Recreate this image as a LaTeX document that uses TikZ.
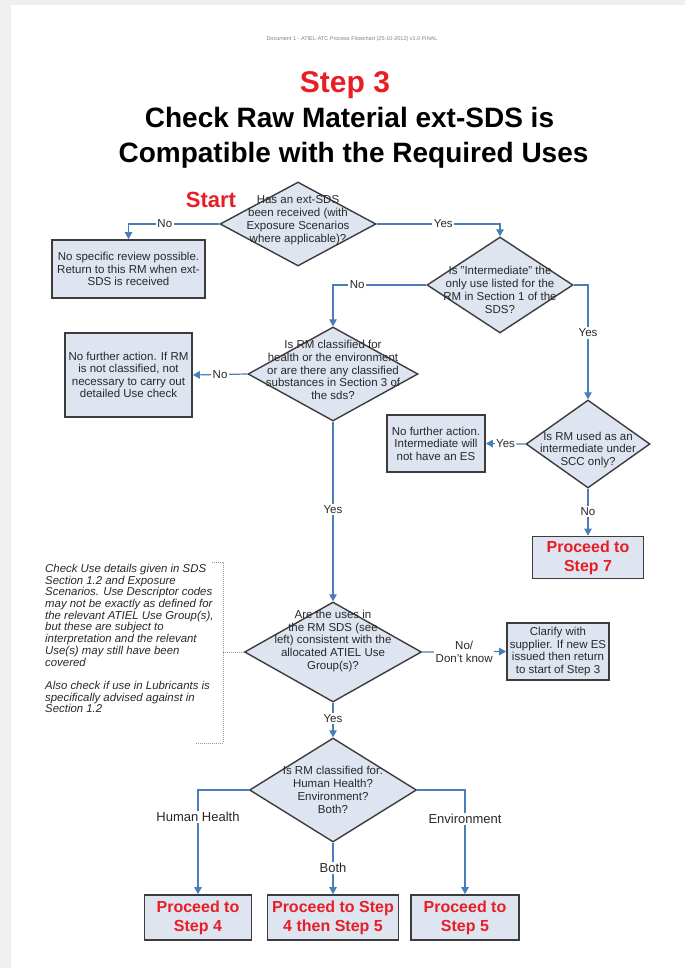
\documentclass[tikz,border=0pt]{standalone}
\usepackage{fontspec}
\setmainfont{Liberation Sans}
\usetikzlibrary{shapes.geometric,arrows.meta}

\definecolor{pagegray}{RGB}{240,240,240}
\definecolor{boxfill}{RGB}{222,229,241}
\definecolor{boxline}{RGB}{60,60,60}
\definecolor{flowblue}{RGB}{74,126,187}
\definecolor{stepred}{RGB}{232,30,36}
\definecolor{txtgray}{RGB}{40,40,40}

\newcommand{\fsz}[2]{\fontsize{#1}{#2}\selectfont}

\begin{document}
\begin{tikzpicture}[x=1pt,y=-1pt,
  proc/.style={rectangle, draw=boxline, fill=boxfill, line width=1.7pt, inner sep=0pt,
               align=center, text=txtgray, font=\fsz{11.5}{12.5}},
  goal/.style={proc, text=stepred, font=\bfseries\fsz{16}{19}},
  decision/.style={diamond, draw=boxline, fill=boxfill, line width=1.4pt, inner sep=0pt},
  dtext/.style={align=center, text=txtgray, font=\fsz{11.5}{12.8}, inner sep=0pt},
  flow/.style={draw=flowblue, line width=1.2pt, -{Triangle[length=7pt,width=7.5pt]}},
  lbl/.style={fill=white, text=txtgray, font=\fsz{11.5}{12.5}, inner sep=1.5pt},
  biglbl/.style={lbl, font=\fsz{13}{14}},
  bracket/.style={draw=gray!80, line width=0.7pt, dash pattern=on 1pt off 1pt}
]

% page and viewer background
\fill[pagegray] (0,0) rectangle (685,968);
\fill[white] (11,5) rectangle (685,968);
\useasboundingbox (0,0) rectangle (685,968);

% header and title
\node[font=\fsz{5.5}{6}, text=gray] (hdr) at (352,39)
  {Document 1 - ATIEL-ATC Process Flowchart (25-10-2012) v1.0 FINAL};
\node[anchor=base, font=\bfseries\fsz{30}{32}, text=stepred] (step) at (345,93) {Step 3};
\node[anchor=base, font=\bfseries\fsz{28}{30}] (title1) at (349.5,128) {Check Raw Material ext-SDS is};
\node[anchor=base, font=\bfseries\fsz{28}{30}] (title2) at (353.5,163) {Compatible with the Required Uses};

\node[font=\bfseries\fsz{22}{24}, text=stepred] (start) at (211,200) {Start};

% decisions
\node[decision, minimum width=156pt, minimum height=84pt] (d1) at (298,224) {};
\node[dtext] (d1t) at (298,220) {Has an ext-SDS\\been received (with\\Exposure Scenarios\\where applicable)?};

\node[decision, minimum width=146pt, minimum height=96pt] (d2) at (500,285) {};
\node[dtext] (d2t) at (500,290) {Is "Intermediate" the\\only use listed for the\\RM in Section 1 of the\\SDS?};

\node[decision, minimum width=170pt, minimum height=94pt] (d3) at (333,374) {};
\node[dtext] (d3t) at (333,370) {Is RM classified for\\health or the environment\\or are there any classified\\substances in Section 3 of\\the sds?};

\node[decision, minimum width=124pt, minimum height=88pt] (d4) at (588,444) {};
\node[dtext] (d4t) at (588,450) {Is RM used as an\\intermediate under\\SCC only?};

\node[decision, minimum width=177pt, minimum height=100pt] (d5) at (333,652) {};
\node[dtext] (d5t) at (333,641) {Are the uses in\\the RM SDS (see\\left) consistent with the\\allocated ATIEL Use\\Group(s)?};

\node[decision, minimum width=167pt, minimum height=104pt] (d6) at (333,790) {};
\node[dtext] (d6t) at (333,790) {Is RM classified for:\\Human Health?\\Environment?\\Both?};

% process boxes
\node[proc, minimum width=153pt, minimum height=58pt] (box1) at (128.5,269)
  {No specific review possible.\\Return to this RM when ext-\\SDS is received};
\node[proc, minimum width=127pt, minimum height=84pt] (box2) at (128.5,375)
  {No further action. If RM\\is not classified, not\\necessary to carry out\\detailed Use check};
\node[proc, minimum width=98pt, minimum height=57pt] (box3) at (436,443.5)
  {No further action.\\Intermediate will\\not have an ES};
\node[proc, minimum width=102pt, minimum height=57pt] (box5) at (558,651.5)
  {Clarify with\\supplier. If new ES\\issued then return\\to start of Step 3};

% outcome boxes
\node[goal, minimum width=111pt, minimum height=42pt] (box4) at (588,557.5) {Proceed to\\Step 7};
\node[goal, minimum width=107pt, minimum height=45pt] (box6) at (198,917.5) {Proceed to\\Step 4};
\node[goal, minimum width=131pt, minimum height=45pt] (box7) at (333,917.5) {Proceed to Step\\4 then Step 5};
\node[goal, minimum width=108pt, minimum height=45pt] (box8) at (465,917.5) {Proceed to\\Step 5};

% guidance note with its dotted bracket
\node[anchor=north west, align=left, inner sep=0pt, text=txtgray,
      font=\itshape\fsz{11.4}{11.7}] (note) at (45,564)
  {Check Use details given in SDS\\Section 1.2 and Exposure\\Scenarios. Use Descriptor codes\\
   may not be exactly as defined for\\the relevant ATIEL Use Group(s),\\but these are subject to\\
   interpretation and the relevant\\Use(s) may still have been\\covered\\[11.7pt]
   Also check if use in Lubricants is\\specifically advised against in\\Section 1.2};
\coordinate (brtop) at (212,562);
\coordinate (brtr) at (223,562);
\coordinate (brmid) at (223,652);
\coordinate (brbr) at (223,743);
\coordinate (brbot) at (195,743);
\draw[bracket] (brtop) -- (brtr) -- (brbr) -- (brbot);
\draw[bracket] (brmid) -- (d5.west);

% connectors
\draw[flow] (d1.west) -| node[lbl, pos=0.3] {No} (box1.north);
\draw[flow] (d1.east) -| node[lbl, pos=0.27] {Yes} (d2.north);
\draw[flow] (d2.west) -| node[lbl, pos=0.37] {No} (d3.north);
\draw[flow] (d2.east) -| node[lbl, pos=0.71] {Yes} (d4.north);
\draw[flow] (d3.west) -- node[lbl] {No} (box2.east);
\draw[flow] (d3.south) -- node[lbl, pos=0.49] {Yes} (d5.north);
\draw[flow] (d4.west) -- node[lbl] {Yes} (box3.east);
\draw[flow] (d4.south) -- node[lbl, pos=0.49] {No} (box4.north);
\draw[flow] (d5.east) -- node[lbl, align=center, pos=0.5] {No/\\Don't know} (box5.west);
\draw[flow] (d5.south) -- node[lbl, pos=0.45] {Yes} (d6.north);
\draw[flow] (d6.west) -| node[biglbl, pos=0.63] {Human Health} (box6.north);
\draw[flow] (d6.east) -| node[biglbl, pos=0.64] {Environment} (box8.north);
\draw[flow] (d6.south) -- node[biglbl, pos=0.49] {Both} (box7.north);

\end{tikzpicture}
\end{document}
